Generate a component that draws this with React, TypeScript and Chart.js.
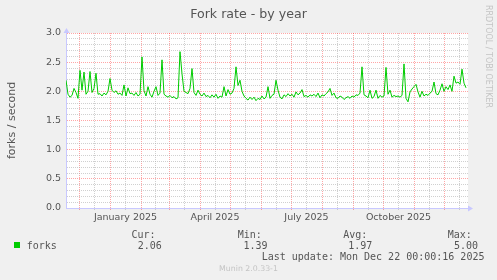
import React, { useEffect, useRef } from 'react';
import { Chart, registerables } from 'chart.js';

Chart.register(...registerables);

// ---------------- data ----------------
const chartTitle = 'Fork rate - by year';
const yAxisTitle = 'forks / second';
const seriesLabel = 'forks';
const watermark = 'RRDTOOL / TOBI OETIKER';
const footer = 'Munin 2.0.33-1';
const lastUpdate = 'Last update: Mon Dec 22 00:00:16 2025';

// first sample date and spacing of samples (days)
const startDate = '2024-11-18';
const sampleStepDays = 2;
const axisEndDays = 402;

// forks / second, one value every 2 days from startDate
const forkRate = [
  2.19, 1.95, 1.90, 1.93, 2.05, 1.98, 1.88, 2.36, 2.02, 2.33,
  1.95, 2.00, 2.34, 1.98, 2.05, 2.31, 1.95, 1.96, 1.92, 1.97,
  1.94, 2.00, 2.22, 2.02, 1.98, 2.01, 1.95, 1.97, 1.93, 2.11,
  1.92, 2.06, 1.96, 1.97, 1.93, 1.98, 1.92, 1.95, 2.59, 2.01,
  1.92, 2.08, 1.95, 1.90, 2.00, 2.08, 1.93, 1.97, 2.54, 1.95,
  1.92, 1.90, 1.93, 1.89, 1.91, 1.87, 1.89, 2.68, 2.30, 2.00,
  1.98, 1.96, 2.05, 2.39, 1.98, 1.93, 2.02, 1.95, 1.92, 1.97,
  1.91, 1.93, 1.89, 1.94, 1.90, 1.95, 1.88, 1.92, 1.90, 2.08,
  1.92, 2.03, 1.95, 1.97, 2.05, 2.42, 2.10, 2.19, 2.00, 1.92,
  1.88, 1.85, 1.90, 1.86, 1.90, 1.84, 1.88, 1.86, 1.92, 1.87,
  1.90, 2.08, 1.88, 1.93, 1.95, 2.19, 2.02, 1.90, 1.87, 1.94,
  1.91, 1.96, 1.92, 1.95, 1.90, 1.99, 1.94, 1.97, 2.03, 1.91,
  1.93, 1.90, 1.94, 1.92, 1.95, 1.91, 1.97, 1.89, 1.94, 1.92,
  1.96, 1.99, 2.05, 1.93, 1.97, 1.89, 1.88, 1.92, 1.90, 1.86,
  1.89, 1.91, 1.88, 1.92, 1.90, 1.94, 1.93, 1.97, 2.42, 1.94,
  1.92, 1.89, 2.02, 1.88, 1.91, 2.02, 1.88, 1.93, 1.90, 1.92,
  2.41, 1.95, 2.02, 1.90, 1.93, 1.91, 1.92, 1.90, 1.93, 2.47,
  1.88, 1.82, 1.99, 2.04, 2.08, 2.12, 1.99, 1.90, 2.00, 1.92,
  1.95, 1.93, 1.97, 2.00, 2.16, 1.96, 1.94, 2.02, 2.13, 2.00,
  2.08, 2.03, 2.11, 2.00, 2.26, 2.14, 2.16, 2.12, 2.38, 2.14,
  2.06,
];

const monthStarts = [
  '2024-12-01', '2025-01-01', '2025-02-01', '2025-03-01', '2025-04-01',
  '2025-05-01', '2025-06-01', '2025-07-01', '2025-08-01', '2025-09-01',
  '2025-10-01', '2025-11-01', '2025-12-01', '2026-01-01',
];
const labelMonths = ['2025-01-01', '2025-04-01', '2025-07-01', '2025-10-01'];
const labelTexts = ['January 2025', 'April 2025', 'July 2025', 'October 2025'];

const yMin = 0;
const yMax = 3;
const yMinorStep = 0.1;

const legendHeaders = ['Cur:', 'Min:', 'Avg:', 'Max:'];
const legendValues = ['2.06', '1.39', '1.97', '5.00'];

// ---------------- helpers ----------------
const DAY = 86400000;
const dayOf = (iso: string) =>
  (Date.parse(iso + 'T00:00:00Z') - Date.parse(startDate + 'T00:00:00Z')) / DAY;

const startDays = monthStarts.map(dayOf);
const midDays = startDays.slice(0, -1).map((d, i) => (d + startDays[i + 1]) / 2);
const labelDays = labelMonths.map((m) => {
  const i = monthStarts.indexOf(m);
  return midDays[i];
});
const xTickValues = [...startDays, ...midDays]
  .filter((v) => v > 0 && v < axisEndDays)
  .sort((a, b) => a - b);
const isMonthStart = (v: number) => startDays.some((s) => Math.abs(s - v) < 0.01);
const labelFor = (v: number) => {
  const i = labelDays.findIndex((d) => Math.abs(d - v) < 0.01);
  return i >= 0 ? labelTexts[i] : '';
};

const yTickValues: number[] = [];
for (let i = 0; i <= Math.round((yMax - yMin) / yMinorStep); i++) {
  yTickValues.push(+(yMin + i * yMinorStep).toFixed(1));
}
const isYMajor = (v: number) => Math.round(v * 10) % 5 === 0;

const points = forkRate.map((y, i) => ({ x: i * sampleStepDays, y }));

// ---------------- styles ----------------
const MAJOR = 'rgba(255,0,0,0.35)';
const MINOR = 'rgba(170,170,170,0.55)';
const AXIS = '#c8c8ff';
const TEXT = '#555555';
const FAINT = '#c4c4c4';
const LINE = '#00cc00';
const SANS = "'DejaVu Sans', sans-serif";
const MONO = "'DejaVu Sans Mono', monospace";

const canvasBg = {
  id: 'canvasBg',
  beforeDraw(chart: any) {
    const { ctx, chartArea: a } = chart;
    ctx.save();
    ctx.fillStyle = '#ffffff';
    ctx.fillRect(a.left, a.top, a.right - a.left, a.bottom - a.top);
    ctx.restore();
  },
};

const axisArrows = {
  id: 'axisArrows',
  afterDraw(chart: any) {
    const { ctx, chartArea: a } = chart;
    ctx.save();
    ctx.fillStyle = AXIS;
    ctx.strokeStyle = AXIS;
    ctx.lineWidth = 1;
    ctx.beginPath();
    ctx.moveTo(a.right, a.bottom + 0.5);
    ctx.lineTo(a.right + 2, a.bottom + 0.5);
    ctx.stroke();
    ctx.beginPath();
    ctx.moveTo(a.right, a.bottom - 2.5);
    ctx.lineTo(a.right + 5, a.bottom + 0.5);
    ctx.lineTo(a.right, a.bottom + 3.5);
    ctx.closePath();
    ctx.fill();
    ctx.beginPath();
    ctx.moveTo(a.left + 0.5, a.top);
    ctx.lineTo(a.left + 0.5, a.top - 2);
    ctx.stroke();
    ctx.beginPath();
    ctx.moveTo(a.left - 2.5, a.top);
    ctx.lineTo(a.left + 0.5, a.top - 5);
    ctx.lineTo(a.left + 3.5, a.top);
    ctx.closePath();
    ctx.fill();
    ctx.restore();
  },
};

const abs = (left: number, top: number, extra: any = {}) => ({
  position: 'absolute' as const,
  left,
  top,
  whiteSpace: 'nowrap' as const,
  ...extra,
});

export default function App() {
  const ref = useRef<HTMLCanvasElement | null>(null);

  useEffect(() => {
    if (!ref.current) return;
    const chart = new Chart(ref.current, {
      type: 'line',
      data: {
        datasets: [
          {
            label: seriesLabel,
            data: points,
            borderColor: LINE,
            backgroundColor: LINE,
            borderWidth: 1,
            pointRadius: 0,
            tension: 0,
            fill: false,
          },
        ],
      },
      plugins: [canvasBg, axisArrows],
      options: {
        responsive: false,
        animation: false,
        devicePixelRatio: 1,
        parsing: false as any,
        normalized: true,
        layout: { padding: { top: 33, right: 29, bottom: 52, left: 0 } },
        plugins: {
          legend: { display: false },
          title: { display: false },
          tooltip: { enabled: false },
        },
        scales: {
          x: {
            type: 'linear',
            min: 0,
            max: axisEndDays,
            afterBuildTicks: (s: any) => {
              s.ticks = xTickValues.map((v) => ({ value: v }));
            },
            afterFit: (s: any) => {
              s.height = 20;
            },
            grid: {
              color: (c: any) => (c.tick && isMonthStart(c.tick.value) ? MAJOR : MINOR),
              tickColor: (c: any) => (c.tick && isMonthStart(c.tick.value) ? MAJOR : MINOR),
              tickLength: 2,
              lineWidth: 1,
              drawTicks: true,
            },
            border: { display: true, color: AXIS, width: 1, dash: [1, 1] },
            ticks: {
              autoSkip: false,
              maxRotation: 0,
              minRotation: 0,
              padding: 1.5,
              color: TEXT,
              font: { family: SANS, size: 9.5 },
              callback: (v: any) => labelFor(Number(v)),
            },
          },
          y: {
            type: 'linear',
            min: yMin,
            max: yMax,
            afterBuildTicks: (s: any) => {
              s.ticks = yTickValues.map((v) => ({ value: v }));
            },
            afterFit: (s: any) => {
              s.width = 66;
            },
            grid: {
              color: (c: any) => (c.tick && isYMajor(c.tick.value) ? MAJOR : MINOR),
              lineWidth: 1,
              drawTicks: false,
            },
            border: { display: true, color: AXIS, width: 1, dash: [1, 1] },
            ticks: {
              autoSkip: false,
              padding: 5,
              color: TEXT,
              font: { family: SANS, size: 9.5 },
              callback: (v: any) => (isYMajor(Number(v)) ? Number(v).toFixed(1) : ''),
            },
          },
        },
      } as any,
    });
    return () => chart.destroy();
  }, []);

  const headerX = [131.5, 237.7, 343.3, 447.7];
  const valueX = [137.7, 243.4, 348.3, 454];

  return (
    <div
      style={{
        position: 'fixed',
        left: 0,
        top: 0,
        width: 497,
        height: 280,
        background: '#f0f0f0',
        overflow: 'hidden',
      }}
    >
      <canvas
        ref={ref}
        width={497}
        height={280}
        style={{ position: 'absolute', left: 0, top: 0, width: 497, height: 280 }}
      />
      <div
        style={abs(0, 6.8, {
          width: 497,
          textAlign: 'center',
          fontFamily: SANS,
          fontSize: 12.6,
          lineHeight: '13px',
          color: TEXT,
        })}
      >
        {chartTitle}
      </div>
      <div
        style={abs(5.6, 33, {
          width: 11,
          height: 175,
          writingMode: 'vertical-rl',
          transform: 'rotate(180deg)',
          textAlign: 'center',
          fontFamily: SANS,
          fontSize: 11,
          lineHeight: '11px',
          color: TEXT,
        })}
      >
        {yAxisTitle}
      </div>
      <div
        style={abs(483.8, 5, {
          width: 8,
          writingMode: 'vertical-rl',
          fontFamily: SANS,
          fontSize: 8,
          lineHeight: '8px',
          color: FAINT,
        })}
      >
        {watermark}
      </div>
      <div style={abs(14, 241.5, { width: 6, height: 6, background: LINE })} />
      <div style={abs(26.7, 240.5, { fontFamily: MONO, fontSize: 10, lineHeight: '10px', color: TEXT })}>
        {seriesLabel}
      </div>
      {legendHeaders.map((h, i) => (
        <div
          key={'h' + i}
          style={abs(headerX[i], 229.8, { fontFamily: MONO, fontSize: 10, lineHeight: '10px', color: TEXT })}
        >
          {h}
        </div>
      ))}
      {legendValues.map((v, i) => (
        <div
          key={'v' + i}
          style={abs(valueX[i], 240.5, { fontFamily: MONO, fontSize: 10, lineHeight: '10px', color: TEXT })}
        >
          {v}
        </div>
      ))}
      <div style={abs(261.7, 251.8, { fontFamily: MONO, fontSize: 10, lineHeight: '10px', color: TEXT })}>
        {lastUpdate}
      </div>
      <div
        style={abs(0, 265, {
          width: 497,
          textAlign: 'center',
          fontFamily: SANS,
          fontSize: 7.8,
          lineHeight: '8px',
          color: FAINT,
        })}
      >
        {footer}
      </div>
    </div>
  );
}
